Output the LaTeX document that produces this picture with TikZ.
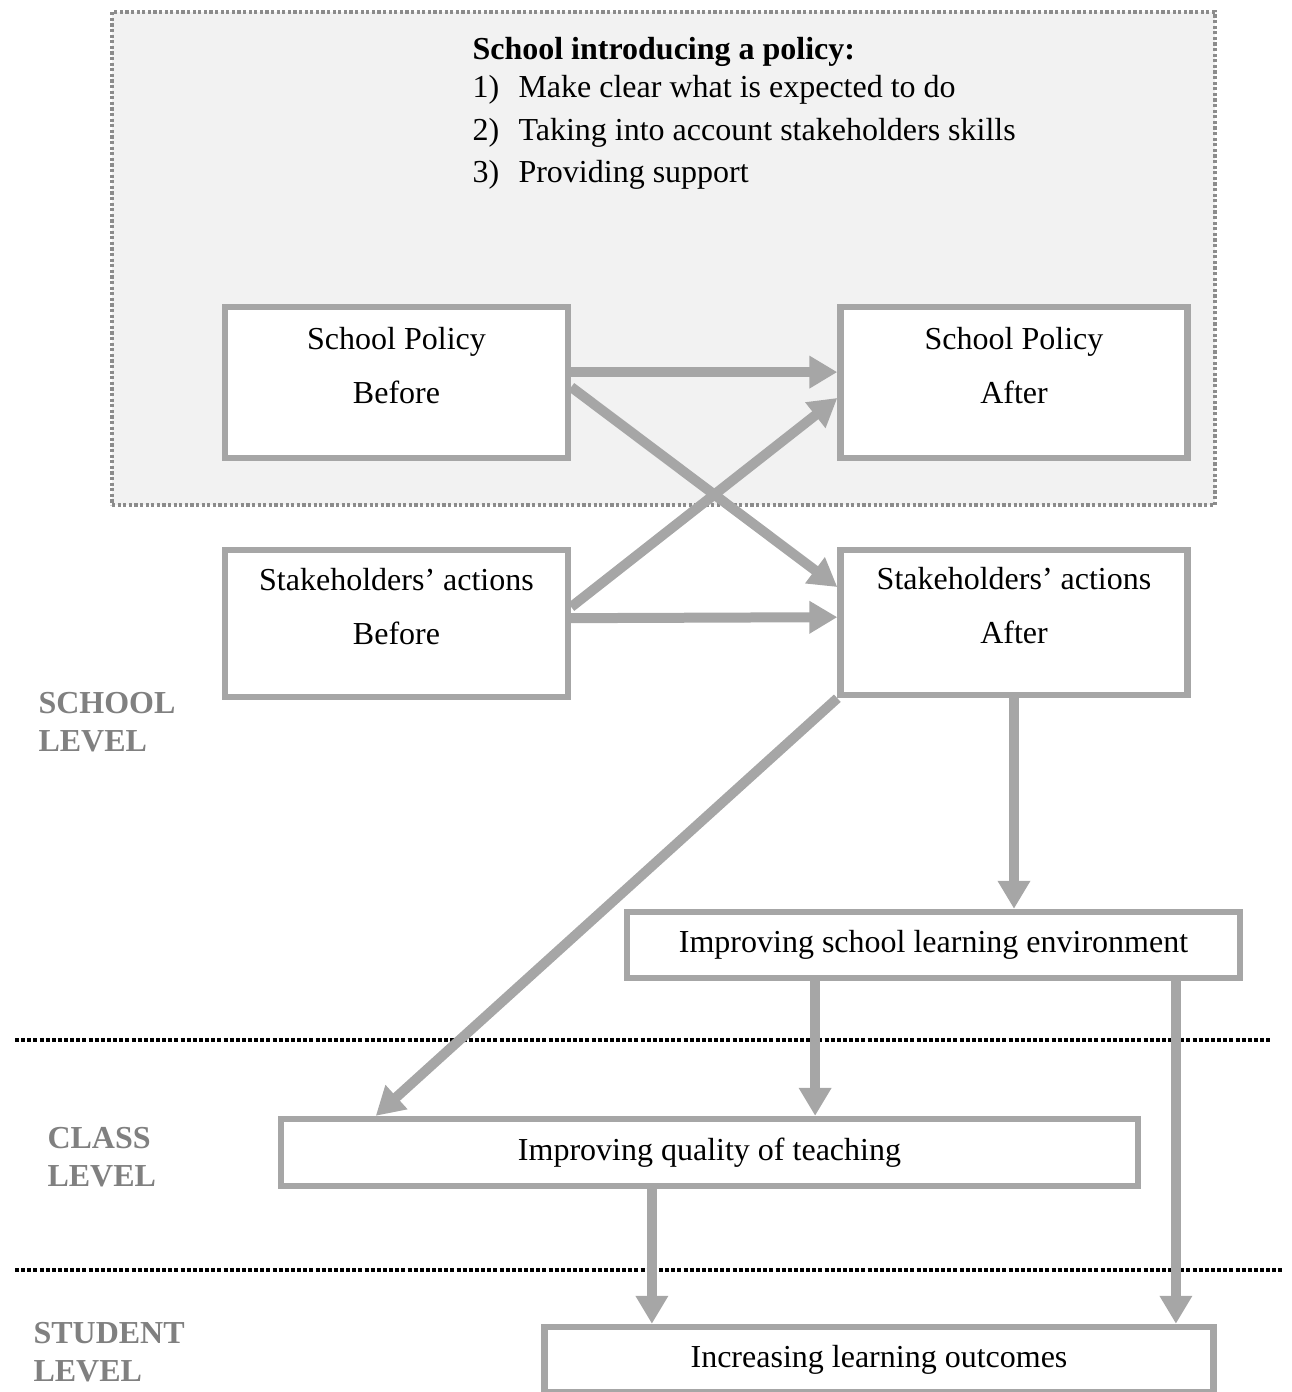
\documentclass[tikz,border=0pt]{standalone}
\usepackage{fontspec}
\setmainfont{Liberation Serif}
\usepackage{xcolor}
\usepackage{tikz}
\usetikzlibrary{arrows.meta,calc}
\definecolor{linegray}{RGB}{166,166,166}
\definecolor{lvlgray}{RGB}{128,128,128}
\definecolor{panelgray}{RGB}{242,242,242}
\definecolor{panelline}{RGB}{140,140,140}
\tikzset{
  panel/.style   = {rectangle, draw=panelline, fill=panelgray, line width=1.2pt,
                    dash pattern=on 1.2pt off 0.9pt, inner sep=0pt},
  box/.style     = {rectangle, draw=linegray, line width=2.4pt, fill=white,
                    align=center, inner sep=0pt, font=\fontsize{12}{20.25}\selectfont},
  twoline/.style = {text depth=12.5pt},
  intro/.style   = {anchor=north west, inner sep=0pt, align=left,
                    font=\fontsize{12}{15.9}\selectfont},
  lvl/.style     = {anchor=north west, inner sep=0pt, align=left, text=lvlgray,
                    font=\bfseries\fontsize{12}{14.25}\selectfont},
  arr/.style     = {-{Triangle[length=10.5pt,width=11.6pt]}, line width=3.75pt, linegray},
  sep/.style     = {line width=1.25pt, dash pattern=on 1.5pt off 0.8pt},
}
\newcommand{\itemno}[1]{\makebox[17.25pt][l]{#1}}

\begin{document}
\begin{tikzpicture}[x=0.375pt,y=-0.375pt]
  \useasboundingbox (0,0) rectangle (1291,1392);

  % school panel
  \node[panel, minimum width=413.6pt, minimum height=184.9pt] (panel) at (663.5,258.5) {};
  \node[intro] (intro) at (472,37)
    {\textbf{School introducing a policy:}\\[-1.65pt]
     \itemno{1)}Make clear what is expected to do\\
     \itemno{2)}Taking into account stakeholders skills\\
     \itemno{3)}Providing support};

  % level separators
  \draw[sep] (15,1040) -- (1270,1040);
  \draw[sep] (15,1270) -- (1282,1270);

  % level labels
  \node[lvl] (school)  at (38,692)  {SCHOOL\\LEVEL};
  \node[lvl] (class)   at (47,1127) {CLASS\\LEVEL};
  \node[lvl] (student) at (33,1322) {STUDENT\\LEVEL};

  % boxes
  \node[box, twoline, minimum width=128.6pt, minimum height=56.6pt] (spb) at (396.5,382.5) {School Policy\\Before};
  \node[box, twoline, minimum width=130.1pt, minimum height=56.6pt] (spa) at (1014,382.5) {School Policy\\After};
  \node[box, twoline, minimum width=128.6pt, minimum height=55.1pt] (sab) at (396.5,623.5) {Stakeholders' actions\\Before};
  \node[box, twoline, minimum width=130.1pt, minimum height=54.4pt] (saa) at (1014,622.5) {Stakeholders' actions\\After};
  \node[box, minimum width=229.9pt, minimum height=24.75pt] (isle) at (933.5,945) {Improving school learning environment};
  \node[box, minimum width=321.4pt, minimum height=25.1pt] (iqt) at (709.5,1152.5) {Improving quality of teaching};
  \node[box, minimum width=250.9pt, minimum height=24.4pt] (ilo) at (879,1359.5) {Increasing learning outcomes};

  % connectors
  \draw[arr] ([yshift=3.9pt]spb.east) -- ([yshift=3.9pt]spa.west);
  \draw[arr] ([yshift=-1.7pt]spb.east) -- ([yshift=13.3pt]saa.west);
  \draw[arr] ([yshift=6.2pt]sab.east) -- ([yshift=-5.8pt]spa.west);
  \draw[arr] ([yshift=2pt]sab.east) -- ([yshift=2pt]saa.west);
  \draw[arr] (saa.south west) -- ([xshift=36.75pt]iqt.north west);
  \draw[arr] (saa.south) -- (saa.south |- isle.north);
  \draw[arr] ([xshift=-44.4pt]isle.south) -- ([xshift=-44.4pt]isle.south |- iqt.north);
  \draw[arr] ([xshift=90.9pt]isle.south) -- ([xshift=90.9pt]isle.south |- ilo.north);
  \draw[arr] ([xshift=-21.6pt]iqt.south) -- ([xshift=-21.6pt]iqt.south |- ilo.north);
\end{tikzpicture}
\end{document}
